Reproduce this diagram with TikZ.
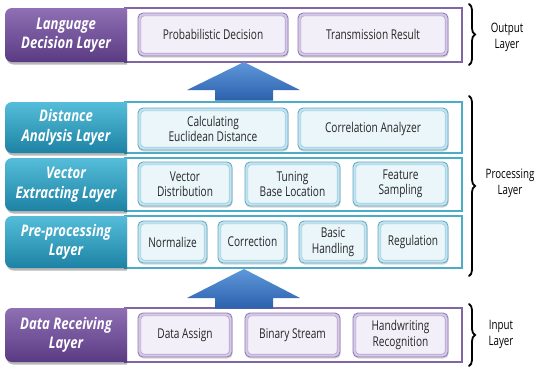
\documentclass[tikz,border=0pt]{standalone}
\usepackage{fontspec}
\setmainfont{Open Sans}
\newfontfamily\cellfont[FakeStretch=0.75]{Open Sans}
\newfontfamily\headfont[FakeStretch=0.82]{Open Sans}
\usetikzlibrary{decorations.pathreplacing,shadows,calc}

\definecolor{purpTop}{HTML}{8F70B4}
\definecolor{purpBot}{HTML}{5A3B83}
\definecolor{tealTop}{HTML}{55BDD9}
\definecolor{tealBot}{HTML}{1D82A4}
\definecolor{purpLine}{HTML}{8066A3}
\definecolor{tealLine}{HTML}{4BACC6}
\definecolor{purpBand}{HTML}{D6C9E7}
\definecolor{purpIn}{HTML}{F3EFF8}
\definecolor{purpEdge}{HTML}{917BB8}
\definecolor{purpInLine}{HTML}{B4A3CF}
\definecolor{tealBand}{HTML}{C2E3EF}
\definecolor{tealIn}{HTML}{EBF6FA}
\definecolor{tealEdge}{HTML}{66ACC6}
\definecolor{tealInLine}{HTML}{9DCFE0}
\definecolor{arrowTop}{HTML}{5E98DA}
\definecolor{arrowBot}{HTML}{2C60AC}
\definecolor{txt}{HTML}{262626}

% one cell: name, style, x1, x2, y1, y2, text
\newcommand\putcell[7]{%
  \node[#2, minimum width={(#4-#3)*1pt}, minimum height={(#6-#5)*1pt}]
    (#1) at ({(#3+#4)/2},{(#5+#6)/2}) {#7};}

% a layer: name, style, top, bottom
\newcommand\putlayer[4]{%
  \node[#2, minimum width=337pt, minimum height={(#4-#3)*1pt}]
    (#1) at (293.5,{(#3+#4)/2}) {};}

% head tab on the left of a layer: colour prefix, top, bottom
\newcommand\puttab[3]{%
  \fill[black, opacity=.28, rounded corners=7pt]
    (127,{#3+2.5}) -- (6.5,{#3+2.5}) -- (6.5,{#2+3}) -- (127,{#2+3});
  \shade[top color=#1Top, bottom color=#1Bot, rounded corners=7pt]
    (127,#3) -- (5,#3) -- (5,#2) -- (127,#2);}

\begin{document}
\begin{tikzpicture}[x=1pt,y=-1pt,
  cellbase/.style={rounded corners=5pt, line width=0.9pt, inner sep=0pt,
    align=center, text=txt,
    font=\cellfont\fontsize{13.5}{15.5}\selectfont,
    drop shadow={shadow xshift=0.6pt, shadow yshift=-1.6pt, opacity=0.3}},
  pcell/.style={cellbase, draw=purpEdge, fill=purpBand,
    path picture={\draw[purpInLine, fill=purpIn, line width=0.6pt, rounded corners=3.5pt]
      ($(path picture bounding box.north west)+(2.8pt,-2.8pt)$) rectangle
      ($(path picture bounding box.south east)+(-2.8pt,2.8pt)$);}},
  tcell/.style={cellbase, draw=tealEdge, fill=tealBand,
    path picture={\draw[tealInLine, fill=tealIn, line width=0.6pt, rounded corners=3.5pt]
      ($(path picture bounding box.north west)+(2.8pt,-2.8pt)$) rectangle
      ($(path picture bounding box.south east)+(-2.8pt,2.8pt)$);}},
  layerP/.style={draw=purpLine, line width=1.2pt, fill=white, inner sep=0pt},
  layerT/.style={draw=tealLine, line width=1.2pt, fill=white, inner sep=0pt},
  headtext/.style={align=center, text=white, inner sep=0pt,
    font=\headfont\bfseries\itshape\fontsize{16}{19.5}\selectfont},
  sidetext/.style={align=center, text=black, inner sep=0pt,
    font=\cellfont\fontsize{13}{16}\selectfont},
  bracket/.style={decorate, decoration={brace, amplitude=6pt}, line width=1.8pt,
    line cap=round},
  blockarrow/.style={top color=arrowTop, bottom color=arrowBot}
]
\useasboundingbox (0,0) rectangle (537,370);
\fill[white] (0,0) rectangle (537,370);

% ---- layer frames ----
\putlayer{langLayer}{layerP}{8}{62}
\putlayer{distLayer}{layerT}{102}{153}
\putlayer{vecLayer}{layerT}{158}{211}
\putlayer{preLayer}{layerT}{216}{268}
\putlayer{dataLayer}{layerP}{308}{362}

% ---- head tabs ----
\puttab{purp}{8}{62}
\puttab{teal}{102}{153}
\puttab{teal}{158}{211}
\puttab{teal}{216}{268}
\puttab{purp}{308}{362}

\node[headtext] (langHead) at (66,35) {Language\\Decision Layer};
\node[headtext] (distHead) at (66,127.5) {Distance\\Analysis Layer};
\node[headtext] (vecHead) at (66,184.5) {Vector\\Extracting Layer};
\node[headtext] (preHead) at (66,242) {Pre-processing\\Layer};
\node[headtext] (dataHead) at (66,335) {Data Receiving\\Layer};

% ---- cells ----
\putcell{probDec}{pcell}{138}{288}{13}{56}{Probabilistic Decision}
\putcell{transRes}{pcell}{298}{448}{13}{56}{Transmission Result}

\putcell{calcDist}{tcell}{138}{288}{108}{150}{Calculating\\Euclidean Distance}
\putcell{corrAna}{tcell}{298}{448}{108}{150}{Correlation Analyzer}

\putcell{vecDist}{tcell}{138}{232}{162}{206}{Vector\\Distribution}
\putcell{tuneBase}{tcell}{245}{340}{162}{206}{Tuning\\Base Location}
\putcell{featSamp}{tcell}{353}{448}{162}{206}{Feature\\Sampling}

\putcell{normal}{tcell}{138}{207}{221}{263}{Normalize}
\putcell{correct}{tcell}{218}{287}{221}{263}{Correction}
\putcell{basic}{tcell}{299}{367}{221}{263}{Basic\\Handling}
\putcell{regul}{tcell}{378}{448}{221}{263}{Regulation}

\putcell{dataAs}{pcell}{138}{232}{313}{357}{Data Assign}
\putcell{binStr}{pcell}{245}{340}{313}{357}{Binary Stream}
\putcell{handRec}{pcell}{353}{448}{313}{357}{Handwriting\\Recognition}

% ---- block arrows between layer groups ----
\coordinate (upTip) at (244,62);
\coordinate (loTip) at (244,269);
\shade[blockarrow] (upTip) -- ++(56,28) -- ++(-27,0) -- (273,100.5)
  -- (215,100.5) -- (215,90) -- ++(-28,0) -- cycle;
\shade[blockarrow] (loTip) -- ++(56,29) -- ++(-27,0) -- (273,308.5)
  -- (215,308.5) -- (215,298) -- ++(-28,0) -- cycle;

% ---- braces and group names ----
\coordinate (outA) at (469,4);   \coordinate (outB) at (469,65);
\coordinate (proA) at (469,96);  \coordinate (proB) at (469,276);
\coordinate (inA) at (469,304);  \coordinate (inB) at (469,366);
\draw[bracket] (outA) -- (outB);
\draw[bracket] (proA) -- (proB);
\draw[bracket] (inA) -- (inB);

\node[sidetext] (outName) at (507,37) {Output\\Layer};
\node[sidetext] (proName) at (510,183) {Processing\\Layer};
\node[sidetext] (inName) at (501,334) {Input\\Layer};
\end{tikzpicture}
\end{document}
